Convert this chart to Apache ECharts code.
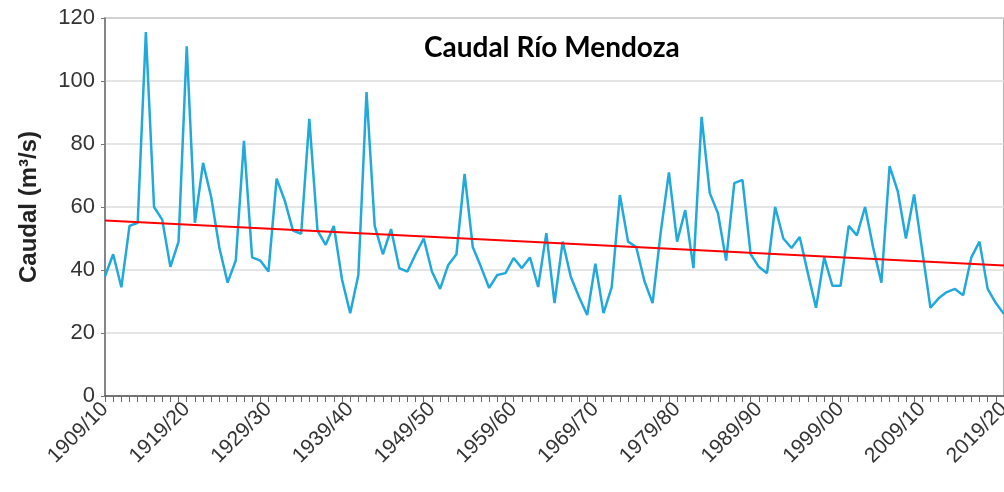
<!DOCTYPE html>
<html>
<head>
<meta charset="utf-8">
<script src="https://cdn.jsdelivr.net/npm/echarts@6/dist/echarts.min.js"></script>
<style>
html,body{margin:0;padding:0;background:#fff;}
#chart{width:1004px;height:492px;}
</style>
</head>
<body>
<div id="chart"></div>
<script>
// Hydrological years 1909/10 ... 2019/20
const firstYear = 1909;
const lastYear = 2019;
const years = [];
for (let y = firstYear; y <= lastYear; y++) {
  years.push(y + '/' + String((y + 1) % 100).padStart(2, '0'));
}

// Annual mean discharge (m3/s)
const caudal = [
  38, 45, 34.5, 54, 55, 115.5, 60, 56, 41, 49,
  111, 55, 74, 63, 47, 36, 43, 81, 44, 43,
  39.5, 69, 62, 52.5, 51.5, 88, 52.5, 48, 54, 37,
  26.3, 38.4, 96.5, 54, 45, 53, 40.6, 39.5, 45, 50,
  39.5, 34, 41.6, 45, 70.5, 47.3, 41, 34.3, 38.4, 39,
  43.8, 40.6, 44, 34.6, 51.7, 29.5, 49, 37.8, 31.4, 25.7,
  42, 26.3, 34.6, 63.8, 49, 47.3, 36.5, 29.5, 52, 71,
  49, 59, 40.6, 88.6, 64.4, 58, 43, 67.6, 68.6, 45,
  41, 39, 60, 50, 47, 50.5, 39, 28, 44, 35,
  35, 54, 51, 60, 47, 36, 73, 65, 50, 64,
  46, 28, 31, 33, 34, 32, 44, 49, 34, 29.5,
  26
];

// Linear trend end points (m3/s)
const trendStart = 55.7;
const trendEnd = 41.4;
const trend = years.map((_, i) => i === 0 ? trendStart : (i === years.length - 1 ? trendEnd : null));

const yTicks = { min: 0, max: 120, interval: 20 };

const chart = echarts.init(document.getElementById('chart'), null, { renderer: 'canvas' });
chart.setOption({
  animation: false,
  backgroundColor: '#ffffff',
  title: {
    text: 'Caudal Río Mendoza',
    left: 419,
    top: 29,
    textStyle: { fontFamily: 'Lato', fontWeight: 'bold', fontSize: 28, color: '#000' }
  },
  grid: {
    left: 105, right: 0, top: 18, bottom: 96,
    containLabel: false,
    outerBoundsMode: 'none',
    show: true,
    borderColor: '#9a9a9a',
    borderWidth: 1.5,
    backgroundColor: 'transparent'
  },
  xAxis: {
    type: 'category',
    data: years,
    boundaryGap: false,
    axisLine: { lineStyle: { color: '#555', width: 1.5 } },
    axisTick: { show: true, interval: 0, length: 6, lineStyle: { color: '#666' } },
    axisLabel: {
      interval: 9,
      rotate: 45,
      fontFamily: 'Liberation Sans, Arial',
      fontSize: 21,
      color: '#333',
      margin: 10
    },
    splitLine: { show: false }
  },
  yAxis: {
    type: 'value',
    min: yTicks.min,
    max: yTicks.max,
    interval: yTicks.interval,
    name: 'Caudal (m³/s)',
    nameLocation: 'middle',
    nameGap: 64,
    nameTextStyle: { fontFamily: 'Liberation Sans, Arial', fontWeight: 'bold', fontSize: 24, color: '#222' },
    axisLine: { show: true, lineStyle: { color: '#777', width: 1.5 } },
    axisTick: { show: true, length: 4, lineStyle: { color: '#777' } },
    axisLabel: { fontFamily: 'Liberation Sans, Arial', fontSize: 22, color: '#333', margin: 10 },
    splitLine: { show: true, lineStyle: { color: '#dcdcdc', width: 1.5 } }
  },
  series: [
    {
      name: 'Caudal',
      type: 'line',
      data: caudal,
      symbol: 'none',
      lineStyle: { color: '#22a9dc', width: 2.5 },
      z: 2
    },
    {
      name: 'Tendencia',
      type: 'line',
      data: trend,
      connectNulls: true,
      symbol: 'none',
      lineStyle: { color: '#ff0000', width: 2 },
      z: 3
    }
  ]
});
</script>
</body>
</html>
